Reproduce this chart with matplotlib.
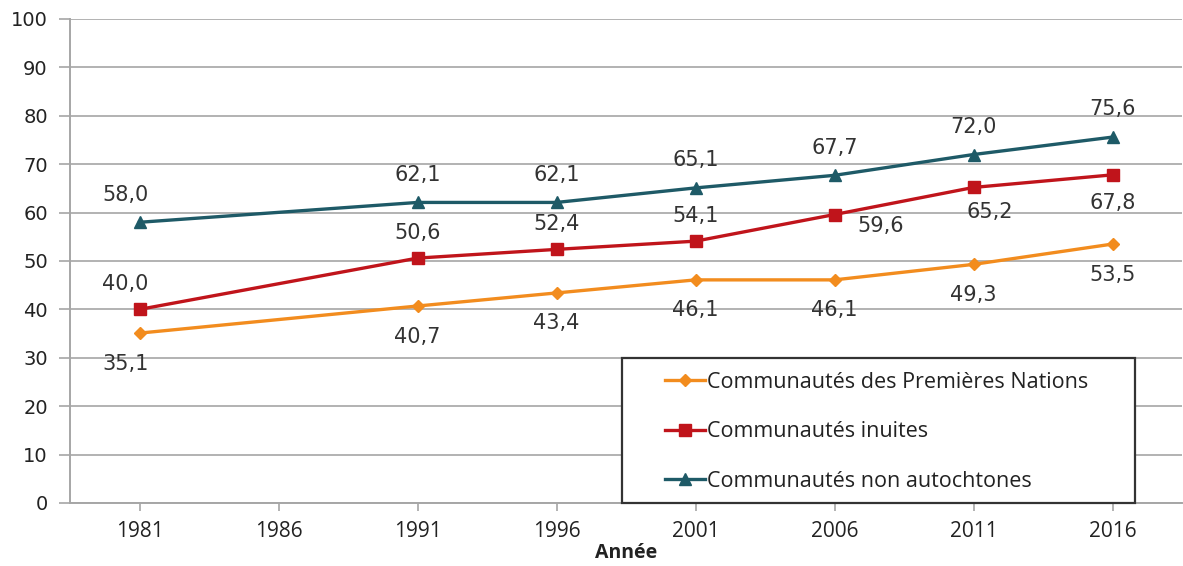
import numpy as np
import matplotlib.pyplot as plt
from matplotlib.patches import Rectangle

plt.rcParams["font.family"] = "DejaVu Sans"

annees = ["1981", "1986", "1991", "1996", "2001", "2006", "2011", "2016"]
# 1986 has no data: lines run straight from 1981 to 1991
annees_donnees = ["1981", "1991", "1996", "2001", "2006", "2011", "2016"]
premieres_nations = [35.1, 40.7, 43.4, 46.1, 46.1, 49.3, 53.5]
inuites = [40.0, 50.6, 52.4, 54.1, 59.6, 65.2, 67.8]
non_autochtones = [58.0, 62.1, 62.1, 65.1, 67.7, 72.0, 75.6]

W, H = 1183, 566
fig = plt.figure(figsize=(W / 100, H / 100), dpi=100)
ax = fig.add_axes([70 / W, 63 / H, 1112 / W, 484 / H])

x = [annees.index(a) for a in annees_donnees]

ax.plot(x, premieres_nations, color="#F28C1E", lw=2.4, marker="D", ms=6.5,
        label="Communautés des Premières Nations", zorder=3)
ax.plot(x, inuites, color="#C0141B", lw=2.4, marker="s", ms=8,
        label="Communautés inuites", zorder=3)
ax.plot(x, non_autochtones, color="#1E5A67", lw=2.4, marker="^", ms=9,
        label="Communautés non autochtones", zorder=3)

lab_kw = dict(fontsize=15, color="#333333", ha="center", va="center")

def fmt(v):
    return f"{v:.1f}".replace(".", ",")

# data labels: offsets in points from each marker
for i, (xi, v) in enumerate(zip(x, premieres_nations)):
    dx = -10 if i == 0 else 0
    ax.annotate(fmt(v), (xi, v), xytext=(dx, -22), textcoords="offset points", **lab_kw)

inuit_off = [(-10, 18), (0, 18), (0, 18), (0, 18), (33, -8), (12, -18), (0, -20)]
for (xi, v), (dx, dy) in zip(zip(x, inuites), inuit_off):
    ax.annotate(fmt(v), (xi, v), xytext=(dx, dy), textcoords="offset points", **lab_kw)

for i, (xi, v) in enumerate(zip(x, non_autochtones)):
    dx = -10 if i == 0 else 0
    ax.annotate(fmt(v), (xi, v), xytext=(dx, 20), textcoords="offset points", **lab_kw)

ax.set_xlim(-0.5, 7.5)
ax.set_ylim(0, 100)
ax.set_yticks(np.arange(0, 101, 10))
ax.set_xticks(range(len(annees)))
ax.set_xticklabels(annees, fontsize=15, family="Open Sans", color="#222222")
for t in ax.get_yticklabels():
    t.set_fontsize(14)
    t.set_color("#222222")

ax.grid(axis="y", color="#A6A6A6", lw=1.2)
ax.set_axisbelow(True)
for s in ["top", "right"]:
    ax.spines[s].set_visible(False)
for s in ["left", "bottom"]:
    ax.spines[s].set_color("#A6A6A6")
    ax.spines[s].set_linewidth(1.4)
ax.tick_params(axis="y", length=8, width=1.2, color="#A6A6A6", pad=8)
ax.tick_params(axis="x", length=6, width=1.2, color="#A6A6A6", pad=7)

ax.set_xlabel("Année", fontsize=14, fontweight="bold", family="Open Sans",
              color="#222222", labelpad=1)

# legend box sits on the x axis
ax.add_patch(Rectangle((0.4964, 0), 0.4613, 0.2996, transform=ax.transAxes,
                       fill=True, facecolor="white", edgecolor="#333333",
                       lw=1.6, zorder=4, clip_on=False))
leg = ax.legend(loc="upper left", bbox_to_anchor=((665 - 70) / 1112, 0.271),
                frameon=False, prop={"family": "Open Sans", "size": 15.5},
                handlelength=1.85, handletextpad=0.1, labelspacing=1.32,
                borderpad=0, borderaxespad=0)
leg.set_zorder(5)
for t in leg.get_texts():
    t.set_color("#222222")

fig.savefig("out.png", dpi=100)
